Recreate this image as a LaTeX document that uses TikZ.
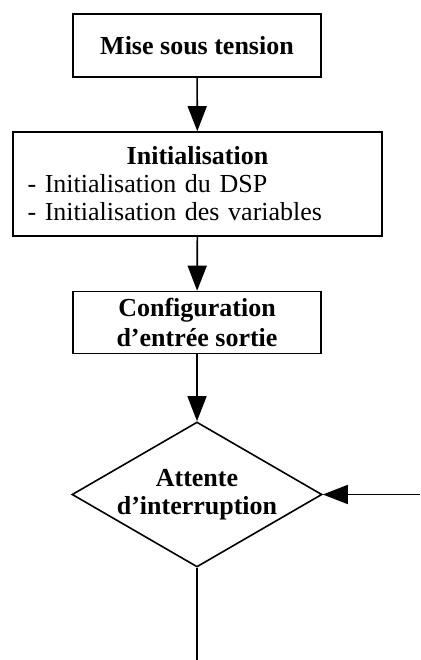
\documentclass[tikz,border=0pt]{standalone}
\usepackage{fontspec}
\setmainfont{Liberation Serif}
\usetikzlibrary{shapes.geometric,arrows.meta}
\begin{document}
\begin{tikzpicture}[x=1pt,y=-1pt,
  every node/.style={font=\fontsize{26}{28}\selectfont},
  box/.style={draw, line width=1.6pt, rectangle, inner sep=0pt, align=center},
  dec/.style={draw, line width=1.6pt, diamond, inner sep=0pt, minimum width=250pt, minimum height=145pt},
  lbl/.style={inner sep=0pt, align=center, font=\fontsize{26}{28}\selectfont\bfseries},
  link/.style={line width=1.6pt, -{Triangle[length=25pt,width=19pt]}},
  plain/.style={line width=1.6pt}]
\useasboundingbox (0,0) rectangle (420,660);
\node[box, minimum width=248pt, minimum height=63pt] (mise) at (197,45.5) {\bfseries Mise sous tension};
\node[box, minimum width=369pt, minimum height=104pt, text width=340pt, align=left] (init) at (197.5,184)
  {{\centering\bfseries Initialisation\par}- Initialisation du DSP\\- Initialisation des variables};
\node[box, minimum width=248pt, minimum height=62pt, font=\fontsize{26}{30}\selectfont\bfseries] (conf) at (197,322.5) {Configuration\\d’entrée sortie};
\node[dec] (att) at (197,494.5) {};
\node[lbl] (attlbl) at (att.center) {Attente\\d’interruption};
\coordinate (ret) at (420,494.5);
\coordinate (fin) at (197,660);
\draw[link] (mise) -- (init);
\draw[link] (init) -- (conf);
\draw[link] (conf) -- (att);
\draw[link] (ret) -- (att.east);
\draw[plain] (att.south) -- (fin);
\end{tikzpicture}
\end{document}
